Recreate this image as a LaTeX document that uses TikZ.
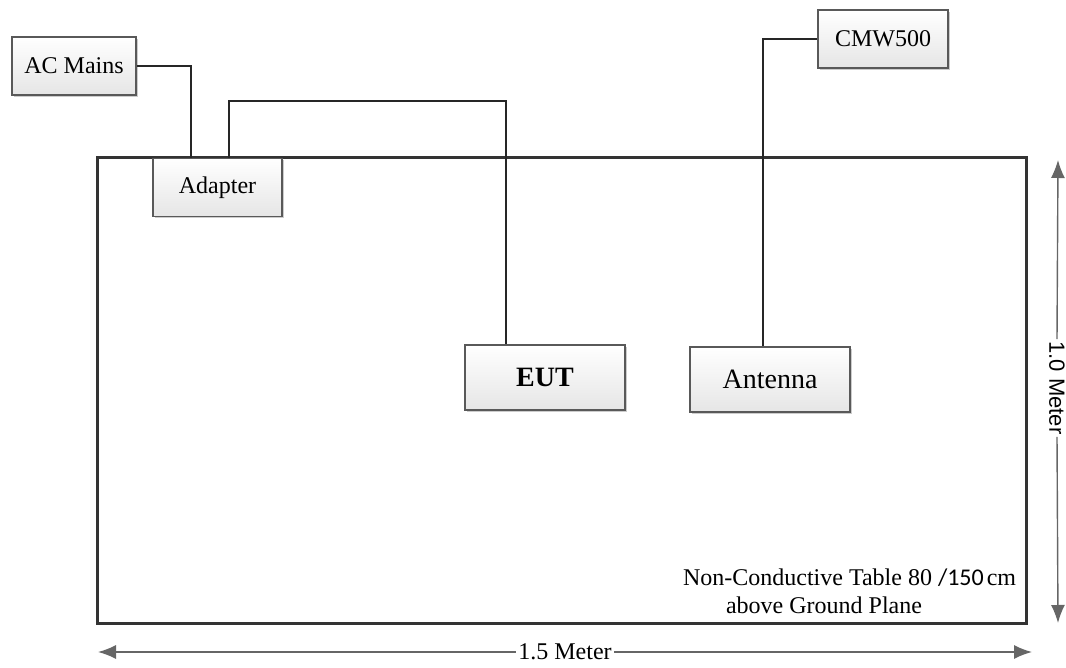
\documentclass[tikz,border=0pt]{standalone}
\usepackage{fontspec}
\setmainfont{Liberation Serif}
\newfontfamily\calibrifont{Carlito}
\newfontfamily\arialfont{Liberation Sans}
\usepackage{tikz}
\usetikzlibrary{positioning,arrows.meta,shadows}

\begin{document}
\begin{tikzpicture}[x=0.5pt,y=-0.5pt,
  box/.style={draw=black!65, line width=0.8pt, top color=white, bottom color=black!10,
    drop shadow={shadow xshift=1pt, shadow yshift=-1pt, opacity=0.2, fill=black},
    inner sep=0pt, minimum height=29pt, font=\fontsize{12}{14}\selectfont},
  bigbox/.style={box, minimum width=80pt, minimum height=32.5pt, font=\fontsize{14}{16}\selectfont},
  wire/.style={line width=1pt, black!85},
  dim/.style={line width=0.7pt, black!60, -{Latex[length=9pt,width=7pt]}}]
  \useasboundingbox (0,0) rectangle (1066,668);

  % table
  \draw[line width=1.5pt, black!80] (97,158) rectangle (1026,623);

  \node[box, minimum width=62pt] (acmains) at (74,66) {AC Mains};
  \node[box, minimum width=64.5pt] (adapter) at (217.5,187.5) {Adapter};
  \node[bigbox] (eut) at (545,377.5) {\textbf{EUT}};
  \node[bigbox] (antenna) at (770,379.5) {Antenna};
  \node[box, minimum width=65pt] (cmw) at (883,39) {CMW500};

  % cables
  \draw[wire] (acmains.east) -| ([xshift=-13.25pt]adapter.north);
  \draw[wire] ([xshift=5.75pt]adapter.north) -- ++(0,-57) -| ([xshift=-19.5pt]eut.north);
  \draw[wire] ([xshift=-3.5pt]antenna.north) |- (cmw.west);

  \node[anchor=west, font=\fontsize{12}{14}\selectfont] (tab1) at (676,578)
    {Non-Conductive Table 80 {\calibrifont /150}\kern1.5pt cm};
  \node[anchor=west, font=\fontsize{12}{14}\selectfont] (tab2) at (719,605)
    {above Ground Plane};

  % dimensions
  \coordinate (lenL) at (98,652);
  \coordinate (lenR) at (1032,652);
  \node[font=\fontsize{12}{14}\selectfont, inner sep=1pt] (len) at (565,652) {1.5 Meter};
  \draw[dim] (len.west) -- (lenL);
  \draw[dim] (len.east) -- (lenR);

  \coordinate (widT) at (1058,160);
  \coordinate (widB) at (1058,623);
  \node[font=\arialfont\fontsize{11}{13}\selectfont, rotate=-90, inner sep=1pt] (wid) at (1057,388) {1.0 Meter};
  \draw[dim] (wid.west) -- (widT);
  \draw[dim] (wid.east) -- (widB);
\end{tikzpicture}
\end{document}
